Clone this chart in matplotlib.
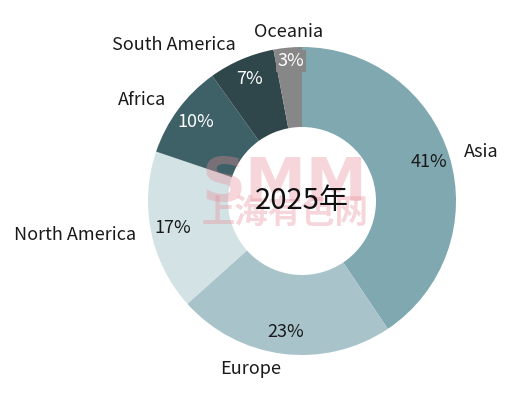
import numpy as np
import matplotlib.pyplot as plt

# Data
regions = ["Asia", "Europe", "North America", "Africa", "South America", "Oceania"]
shares = [41, 23, 17, 10, 7, 3]
pct_labels = ["41%", "23%", "17%", "10%", "7%", "3%"]
colors = ["#7fa8b1", "#a8c4ca", "#d3e2e5", "#3d6167", "#2f464a", "#878787"]
pct_colors = ["#1a1a1a", "#1a1a1a", "#1a1a1a", "white", "white", "white"]
center_text = "2025年"

plt.rcParams['font.family'] = ['Noto Sans CJK KR', 'DejaVu Sans']
plt.rcParams['font.weight'] = 'light'

fig = plt.figure(figsize=(5.08, 4.04), dpi=100)
ax = fig.add_axes([0, 0, 1, 1])

R = 154
wedges, texts = ax.pie(shares, labels=regions, colors=colors, startangle=90,
                       counterclock=False, radius=R, labeldistance=1.1,
                       wedgeprops=dict(width=R - 74, linewidth=0),
                       textprops=dict(fontsize=13, color="#1a1a1a"))
texts[-1].set_ha("center")
texts[-1].set_position((-13, 1.1 * R))

# axes centred on the donut centre (302, 201 px) -- pie resets limits, so set after
ax.set_xlim(-302, 508 - 302)
ax.set_ylim(-(404 - 201), 201)
ax.set_aspect("equal")
ax.axis("off")

# percentage labels inside the ring
total = sum(shares)
start = 90.0
for i, v in enumerate(shares):
    ang = np.deg2rad(start - v / total * 360 / 2)
    start -= v / total * 360
    x, y = 0.86 * R * np.cos(ang), 0.86 * R * np.sin(ang)
    kw = {}
    if regions[i] == "Oceania":
        x, y = -11, 0.91 * R
        kw["bbox"] = dict(boxstyle="square,pad=0.1", fc=colors[i], ec="none")
    ax.text(x, y, pct_labels[i], ha="center", va="center", fontsize=13,
            color=pct_colors[i], **kw)

# watermark
ax.text(-17, 16, "SMM", ha="center", va="center", fontsize=44, fontweight="bold",
        color="#e88a96", alpha=0.35, family="DejaVu Sans")
ax.text(-17, -12, "上海有色网", ha="center", va="center", fontsize=24, fontweight="bold",
        color="#e88a96", alpha=0.35)

ax.text(0, 0, center_text, ha="center", va="center", fontsize=21, color="#111111")

fig.savefig("out.png", dpi=100)
